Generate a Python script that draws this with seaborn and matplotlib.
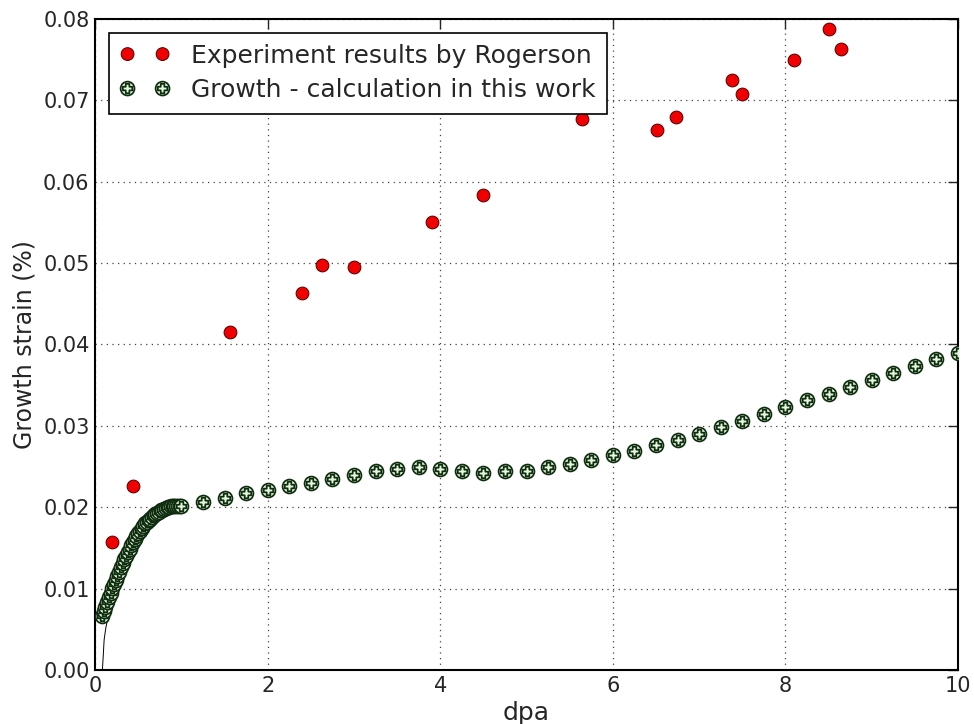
import numpy as np
import pandas as pd
import matplotlib
matplotlib.use("Agg")
import matplotlib.pyplot as plt
from matplotlib.path import Path
import seaborn as sns

# Experiment results by Rogerson
exp_dpa = [0.20, 0.445, 1.56, 2.40, 2.63, 3.00, 3.90, 4.49, 5.64, 6.51, 6.73, 7.38, 7.50, 8.10, 8.50, 8.64]
exp_strain = [0.0157, 0.0226, 0.0415, 0.0463, 0.0498, 0.0495, 0.0550, 0.0584, 0.0677, 0.0663,
              0.0679, 0.0725, 0.0708, 0.0749, 0.0787, 0.0763]

# Growth calculation: dense part at low dose
calc_dpa_low = [0.08, 0.10, 0.12, 0.14, 0.16, 0.18, 0.20, 0.22, 0.24, 0.26, 0.28, 0.30, 0.32, 0.34,
                0.36, 0.38, 0.40, 0.42, 0.44, 0.46, 0.48, 0.50, 0.52, 0.54, 0.56, 0.58, 0.60, 0.62,
                0.64, 0.66, 0.68, 0.70, 0.72, 0.74, 0.76, 0.78, 0.80, 0.82, 0.84, 0.86, 0.88, 0.90,
                0.92, 0.94, 0.96, 0.98, 1.00]
calc_strain_low = [0.0066, 0.0072, 0.0078, 0.0084, 0.0090, 0.0095, 0.0101, 0.0106, 0.0111, 0.0116,
                   0.0121, 0.0126, 0.0131, 0.0136, 0.0140, 0.0145, 0.0149, 0.0153, 0.0157, 0.0161,
                   0.0165, 0.0168, 0.0171, 0.0174, 0.0177, 0.0180, 0.0182, 0.0184, 0.0186, 0.0188,
                   0.0190, 0.0192, 0.0193, 0.0194, 0.0196, 0.0197, 0.0198, 0.0199, 0.0200, 0.0200,
                   0.0201, 0.0201, 0.0202, 0.0202, 0.0202, 0.0202, 0.0202]

# Growth calculation: every 0.25 dpa above 1 dpa
calc_dpa_high = [1.25, 1.50, 1.75, 2.00, 2.25, 2.50, 2.75, 3.00, 3.25, 3.50, 3.75, 4.00, 4.25, 4.50,
                 4.75, 5.00, 5.25, 5.50, 5.75, 6.00, 6.25, 6.50, 6.75, 7.00, 7.25, 7.50, 7.75, 8.00,
                 8.25, 8.50, 8.75, 9.00, 9.25, 9.50, 9.75, 10.00]
calc_strain_high = [0.0206, 0.0211, 0.0217, 0.0221, 0.0226, 0.0230, 0.0235, 0.0240, 0.0244, 0.0247,
                    0.0249, 0.0247, 0.0244, 0.0242, 0.0244, 0.0245, 0.0249, 0.0253, 0.0258, 0.0264,
                    0.0269, 0.0276, 0.0283, 0.0290, 0.0299, 0.0306, 0.0314, 0.0323, 0.0332, 0.0339,
                    0.0348, 0.0356, 0.0365, 0.0373, 0.0382, 0.0390]

# thin trace at the very start of the calculation
start_dpa = [0.085, 0.095, 0.105, 0.125, 0.145]
start_strain = [0.0, 0.0018, 0.0037, 0.0052, 0.0062]


def plus_circle_marker():
    # circle with a plus inside, both outlines stroked
    circle = Path.unit_circle()
    a, L = 0.26, 0.68
    pts = [(-a, L), (-a, a), (-L, a), (-L, -a), (-a, -a), (-a, -L), (a, -L), (a, -a),
           (L, -a), (L, a), (a, a), (a, L), (-a, L)]
    codes = [Path.MOVETO] + [Path.LINETO] * (len(pts) - 2) + [Path.CLOSEPOLY]
    plus = Path(pts, codes)
    return Path.make_compound_path(circle, plus)


def main():
    sns.set_style("white", {
        "axes.edgecolor": "black",
        "xtick.direction": "in",
        "ytick.direction": "in",
    })
    plt.rcParams["font.family"] = ["DejaVu Sans"]

    calc = pd.DataFrame({
        "dpa": calc_dpa_low + calc_dpa_high,
        "strain": calc_strain_low + calc_strain_high,
    })
    exp = pd.DataFrame({"dpa": exp_dpa, "strain": exp_strain})
    start = pd.DataFrame({"dpa": start_dpa, "strain": start_strain})

    fig, ax = plt.subplots(figsize=(9.74, 7.24), dpi=100)
    fig.subplots_adjust(left=0.0976, right=0.9836, top=0.974, bottom=0.0746)

    sns.lineplot(data=start, x="dpa", y="strain", ax=ax, color="black", lw=0.7,
                 sort=False, zorder=2)
    sns.scatterplot(data=exp, x="dpa", y="strain", ax=ax, marker="o", s=85,
                    color="#f00000", edgecolor="#500000", linewidth=0.7,
                    label="Experiment results by Rogerson", zorder=3)
    sns.scatterplot(data=calc, x="dpa", y="strain", ax=ax, marker=plus_circle_marker(), s=100,
                    color="#e4f7de", edgecolor="#0e2c0e", linewidth=1.25,
                    label="Growth - calculation in this work", zorder=3)

    ax.set_xlim(0, 10)
    ax.set_ylim(0, 0.08)
    ax.set_xticks([0, 2, 4, 6, 8, 10])
    ax.set_yticks(np.arange(0, 0.081, 0.01))
    ax.yaxis.set_major_formatter(matplotlib.ticker.FormatStrFormatter("%.2f"))
    ax.tick_params(axis="both", which="major", labelsize=15, length=7, width=1,
                   top=True, right=True, direction="in", pad=4)
    for sp in ax.spines.values():
        sp.set_linewidth(1.5)
    ax.grid(True, color="#444444", linestyle=(0, (1, 3.5)), linewidth=0.9)
    ax.set_axisbelow(True)

    ax.set_xlabel("dpa", fontsize=18, labelpad=4)
    ax.set_ylabel("Growth strain (%)", fontsize=17, labelpad=5)

    leg = ax.legend(loc="upper left", scatterpoints=2, scatteryoffsets=[0.5], fontsize=18,
                    frameon=True, fancybox=False, framealpha=1, edgecolor="black",
                    borderaxespad=0.55, handletextpad=0.85, borderpad=0.45,
                    labelspacing=0.42, handlelength=2.0)
    leg.get_frame().set_linewidth(1.2)

    plt.savefig("out.png", dpi=100)


if __name__ == "__main__":
    main()
